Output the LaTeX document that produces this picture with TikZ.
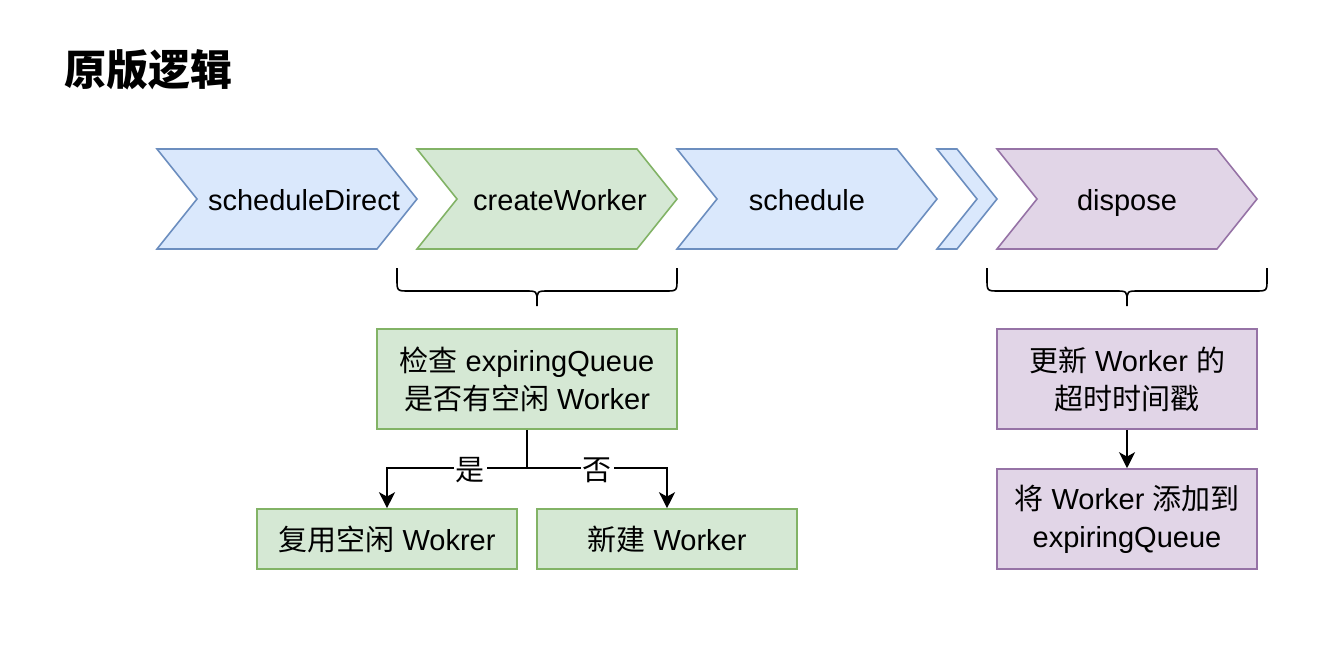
\documentclass[tikz,border=0pt]{standalone}
\usepackage{fontspec}
\setmainfont{Liberation Sans}
\newfontfamily\cjk{Noto Sans CJK SC}
\usetikzlibrary{arrows.meta}
\definecolor{bfill}{HTML}{DAE8FC}
\definecolor{bline}{HTML}{6C8EBF}
\definecolor{gfill}{HTML}{D5E8D4}
\definecolor{gline}{HTML}{82B366}
\definecolor{pfill}{HTML}{E1D5E7}
\definecolor{pline}{HTML}{9673A6}
\newcommand\zh[1]{{\cjk #1}}
% #1 left x, #2 width, #3 style
\newcommand\mychev[3]{%
  \draw[#3] (#1,149) -- ++(#2-40,0) -- ++(40,50) -- ++(-40,50) -- ++(-#2+40,0) -- ++(40,-50) -- cycle;}
% #1 left x, #2 right x
\newcommand\mybrace[2]{%
  \draw[brace] (#1,268) -- (#1,279) .. controls (#1,291) .. ({#1+12},291) -- ({(#1+#2)/2-12},291)
     .. controls ({(#1+#2)/2},291) .. ({(#1+#2)/2},302) -- ({(#1+#2)/2},306);
  \draw[brace] (#2,268) -- (#2,279) .. controls (#2,291) .. ({#2-12},291) -- ({(#1+#2)/2+12},291)
     .. controls ({(#1+#2)/2},291) .. ({(#1+#2)/2},302);}
\begin{document}
\begin{tikzpicture}[x=0.5pt,y=-0.5pt,
  font=\fontsize{14.5pt}{19pt}\selectfont,
  blue/.style={fill=bfill,draw=bline,line width=0.8pt,line join=miter},
  green/.style={fill=gfill,draw=gline,line width=0.8pt,line join=miter},
  purple/.style={fill=pfill,draw=pline,line width=0.8pt,line join=miter},
  lbl/.style={inner sep=0pt,text height=10.5pt,text depth=3pt},
  box/.style={rectangle,line width=0.8pt,minimum width=130pt,minimum height=50pt,align=center,inner sep=2pt},
  gbox/.style={box,fill=gfill,draw=gline},
  pbox/.style={box,fill=pfill,draw=pline},
  brace/.style={line width=0.8pt,black},
  arr/.style={line width=0.8pt,-{Stealth[length=8pt,width=8pt,inset=2.2pt]}},
  yn/.style={fill=white,inner sep=1pt}]
\useasboundingbox (0,0) rectangle (1336,652);
\node[inner sep=0pt,anchor=west,font=\fontsize{21pt}{24pt}\selectfont\cjk\bfseries] (title) at (64,70) {原版逻辑};
\mychev{157}{260}{blue}
\mychev{417}{260}{green}
\mychev{677}{260}{blue}
\mychev{937}{60}{blue}
\mychev{997}{260}{purple}
\node[lbl] (sd) at (304,203) {scheduleDirect};
\node[lbl] (cw) at (560,203) {createWorker};
\node[lbl] (sc) at (807,203) {schedule};
\node[lbl] (dp) at (1127,203) {dispose};
\mybrace{397}{677}
\mybrace{987}{1267}
\node[gbox,minimum width=150pt] (check) at (527,379) {\zh{检查} expiringQueue\\\zh{是否有空闲} Worker};
\node[gbox,minimum height=30pt] (reuse) at (387,539) {\zh{复用空闲} Wokrer};
\node[gbox,minimum height=30pt] (newb) at (667,539) {\zh{新建} Worker};
\coordinate (j) at (527,468);
\draw[arr] (check.south) -- (j) -| (reuse.north);
\draw[arr] (j) -| (newb.north);
\node[yn] (yes) at (470,470) {\zh{是}};
\node[yn] (no) at (597,470) {\zh{否}};
\node[pbox] (upd) at (1127,379) {\zh{更新} Worker \zh{的}\\\zh{超时时间戳}};
\node[pbox] (add) at (1127,519) {\zh{将} Worker \zh{添加到}\\expiringQueue};
\draw[arr] (upd.south) -- (add.north);
\end{tikzpicture}
\end{document}
